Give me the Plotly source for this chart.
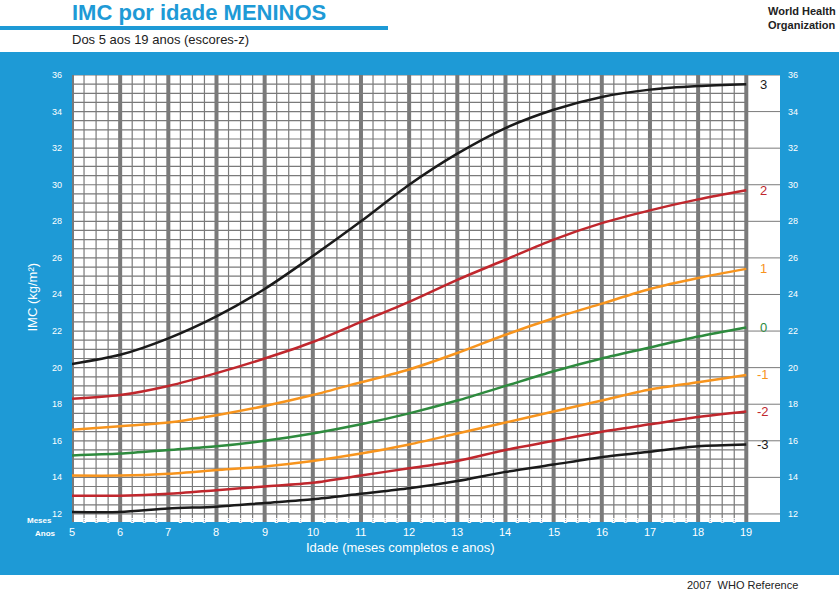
import plotly.graph_objects as go

ages = list(range(5, 20))
sd3 = [20.2, 20.7, 21.6, 22.8, 24.3, 26.1, 28.0, 30.0, 31.7, 33.1, 34.1, 34.8, 35.2, 35.4, 35.5]
sd2 = [18.3, 18.5, 19.0, 19.7, 20.5, 21.4, 22.5, 23.6, 24.8, 25.9, 27.0, 27.9, 28.6, 29.2, 29.7]
sd1 = [16.6, 16.8, 17.0, 17.4, 17.9, 18.5, 19.2, 19.9, 20.8, 21.8, 22.7, 23.5, 24.3, 24.9, 25.4]
sd0 = [15.2, 15.3, 15.5, 15.7, 16.0, 16.4, 16.9, 17.5, 18.2, 19.0, 19.8, 20.5, 21.1, 21.7, 22.2]
sdm1 = [14.1, 14.1, 14.2, 14.4, 14.6, 14.9, 15.3, 15.8, 16.4, 17.0, 17.6, 18.2, 18.8, 19.2, 19.6]
sdm2 = [13.0, 13.0, 13.1, 13.3, 13.5, 13.7, 14.1, 14.5, 14.9, 15.5, 16.0, 16.5, 16.9, 17.3, 17.6]
sdm3 = [12.1, 12.1, 12.3, 12.4, 12.6, 12.8, 13.1, 13.4, 13.8, 14.3, 14.7, 15.1, 15.4, 15.7, 15.8]
labels = ["3", "2", "1", "0", "-1", "-2", "-3"]
series = [sd3, sd2, sd1, sd0, sdm1, sdm2, sdm3]
BLACK, RED, ORANGE, GREEN = "#1a1a1a", "#c0272d", "#f7941d", "#2e8b3e"
colors = [BLACK, RED, ORANGE, GREEN, ORANGE, RED, BLACK]
yticks = list(range(12, 37, 2))
month_labels = ["3", "6", "9"]

BLUE = "#1e9ad6"
GRID = "#7a7a7a"
YMIN, YMAX = 11.56, 36.0
XMIN, XMAX = 5, 19.7
FONT = "Liberation Sans"

fig = go.Figure()
for s, c in zip(series, colors):
    fig.add_trace(go.Scatter(x=ages, y=s, mode="lines",
                             line=dict(color=c, width=2.5, shape="spline", smoothing=0.8),
                             hoverinfo="skip", showlegend=False))

shapes = []
shapes.append(dict(type="rect", xref="paper", yref="paper", x0=0, x1=1, y0=17/592, y1=540/592,
                   fillcolor=BLUE, line_width=0, layer="below"))
shapes.append(dict(type="rect", xref="x", yref="y", x0=XMIN, x1=XMAX, y0=YMIN, y1=YMAX,
                   fillcolor="white", line_width=0, layer="below"))
shapes.append(dict(type="rect", xref="paper", yref="paper", x0=0, x1=388/839, y0=1-30/592, y1=1-26/592,
                   fillcolor=BLUE, line_width=0))
k = 0
while 12 + k * 0.5 <= 36:
    yv = 12 + k * 0.5
    shapes.append(dict(type="line", xref="x", yref="y", x0=5, x1=19, y0=yv, y1=yv,
                       line=dict(color=GRID, width=1.2), layer="below"))
    k += 1
for yv in yticks:
    shapes.append(dict(type="line", xref="x", yref="y", x0=19, x1=XMAX, y0=yv, y1=yv,
                       line=dict(color=GRID, width=1), layer="below"))
for i in range(0, 14 * 4 + 1):
    xv = 5 + i * 0.25
    thick = (i % 4 == 0)
    shapes.append(dict(type="line", xref="x", yref="y", x0=xv, x1=xv,
                       y0=(YMIN - 0.45) if thick else YMIN, y1=YMAX,
                       line=dict(color=GRID, width=4 if thick else 1.2), layer="below"))

ann = []
for yv in yticks:
    ann.append(dict(x=64/839, y=yv, xref="paper", yref="y", text=str(yv), showarrow=False,
                    font=dict(color="white", size=9, family=FONT), xanchor="right"))
    ann.append(dict(x=786/839, y=yv, xref="paper", yref="y", text=str(yv), showarrow=False,
                    font=dict(color="white", size=9, family=FONT), xanchor="left"))
for a in ages:
    ann.append(dict(x=a, y=(592-540)/592, xref="x", yref="paper", text=str(a), showarrow=False,
                    font=dict(color="white", size=11, family=FONT)))
    if a < 19:
        for j, m in enumerate(month_labels):
            ann.append(dict(x=a + 0.25 * (j + 1), y=(592-527)/592, xref="x", yref="paper", text="<b>%s</b>" % m,
                            showarrow=False, font=dict(color="white", size=8, family=FONT)))
ann.append(dict(x=25/839, y=(592-527)/592, xref="paper", yref="paper", text="<b>Meses</b>", showarrow=False,
                font=dict(color="white", size=8, family=FONT)))
ann.append(dict(x=33/839, y=(592-540)/592, xref="paper", yref="paper", text="<b>Anos</b>", showarrow=False,
                font=dict(color="white", size=8, family=FONT)))
for s, c, l in zip(series, colors, labels):
    ann.append(dict(x=19.35, y=s[-1], xref="x", yref="y", text=l, showarrow=False, xanchor="center",
                    font=dict(color=c, size=13, family=FONT)))
ann.append(dict(x=400/839, y=(592-557)/592, xref="paper", yref="paper", text="Idade (meses completos e anos)",
                showarrow=False, font=dict(color="white", size=13, family=FONT)))
ann.append(dict(x=22/839, y=(592-297)/592, xref="paper", yref="paper", text="IMC (kg/m²)", textangle=-90,
                showarrow=False, font=dict(color="white", size=13, family=FONT)))
ann.append(dict(x=70/839, y=1-12/592, xref="paper", yref="paper", text="<b>IMC por idade MENINOS</b>",
                showarrow=False, xanchor="left", yanchor="middle", font=dict(color=BLUE, size=22, family=FONT)))
ann.append(dict(x=70/839, y=1-40/592, xref="paper", yref="paper", text="Dos 5 aos 19 anos (escores-z)",
                showarrow=False, xanchor="left", yanchor="middle", font=dict(color="#222", size=13, family=FONT)))
ann.append(dict(x=838/839, y=1-18/592, xref="paper", yref="paper", text="<b>World Health<br>Organization</b>",
                showarrow=False, xanchor="right", yanchor="middle", align="left",
                font=dict(color="#222", size=11, family=FONT)))
ann.append(dict(x=800/839, y=7/592, xref="paper", yref="paper", text="2007  WHO Reference",
                showarrow=False, xanchor="right", yanchor="middle", font=dict(color="#222", size=11, family=FONT)))

fig.update_layout(
    width=839, height=592, margin=dict(l=0, r=0, t=0, b=0),
    paper_bgcolor="white", plot_bgcolor="white",
    shapes=shapes, annotations=ann,
    xaxis=dict(domain=[72/839, 780/839], range=[XMIN, XMAX], showgrid=False, zeroline=False,
               showticklabels=False, fixedrange=True),
    yaxis=dict(domain=[70/592, 517/592], range=[YMIN, YMAX], showgrid=False, zeroline=False,
               showticklabels=False, fixedrange=True),
)
fig.write_html("out.html", config={"displayModeBar": False},
               post_script="document.body.style.margin='0';document.body.style.overflow='hidden';")
